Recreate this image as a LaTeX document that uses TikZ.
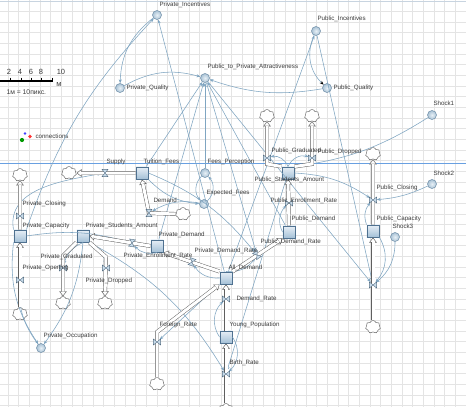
\documentclass[tikz,border=0pt]{standalone}
\usepackage{fontspec}
\setmainfont{Liberation Sans}
\usetikzlibrary{arrows.meta,shapes.symbols,calc}
\definecolor{gridc}{HTML}{E4E4E4}
\definecolor{linkc}{HTML}{7FA5C1}
\definecolor{pipec}{HTML}{5F5F5F}
\definecolor{stockd}{HTML}{4F7190}
\definecolor{stockl}{HTML}{E8F0F7}
\definecolor{stockm}{HTML}{A3BFD6}
\definecolor{vard}{HTML}{6C8CA6}
\definecolor{varl}{HTML}{E8F0F6}
\definecolor{varm}{HTML}{A9C2D5}
\definecolor{valvef}{HTML}{C9DCEB}
\definecolor{txtc}{HTML}{3C3C3C}
\tikzset{
  stock/.style={rectangle, minimum size=12.5pt, inner sep=0pt, draw=stockd, line width=0.5pt, top color=stockl, bottom color=stockm},
  sdvar/.style={circle, minimum size=9pt, inner sep=0pt, draw=vard, line width=0.5pt, inner color=varl, outer color=varm},
  vnode/.style={circle, minimum size=7pt, inner sep=0pt},
  sky/.style={cloud, cloud puffs=7, cloud puff arc=140, aspect=1.15, minimum width=15pt, minimum height=13pt, inner sep=0pt, draw=pipec, fill=white, line width=0.45pt},
  lbl/.style={anchor=west, inner sep=0.3pt, text=txtc},
  link/.style={draw=linkc, line width=0.55pt, -{Stealth[length=4pt,width=3pt]}},
  pipetip/.style={draw=pipec, line width=0.45pt, -{Triangle[width=7.5pt,length=5pt,fill=white]}},
  pipeout/.style={draw=pipec, line width=3.9pt, shorten >=4.6pt},
  pipein/.style={draw=white, line width=3pt, shorten >=4.6pt},
  valvepic/.pic={\draw[draw=vard!80!black, fill=valvef, line width=0.4pt] (-3.6,-3) -- (0,0) -- (-3.6,3) -- cycle (3.6,-3) -- (0,0) -- (3.6,3) -- cycle;}
}
\newcommand\flowpipe[1]{\draw[pipetip] #1; \draw[pipeout] #1; \draw[pipein] #1;}
\begin{document}
\begin{tikzpicture}[x=1pt,y=-1pt,font=\fontsize{6.2}{7}\selectfont]
\useasboundingbox (0,0) rectangle (466,407);
\fill[white] (0,0) rectangle (466,407);
% grid
\foreach \gx in {7.85,18.5,...,466} \draw[gridc,line width=0.5pt] (\gx,0) -- (\gx,407);
\foreach \gy in {0.75,11.4,...,407} \draw[gridc,line width=0.5pt] (0,\gy) -- (466,\gy);
\draw[color={rgb,255:red,200;green,212;blue,224}, line width=1pt] (0,1.5) -- (466,1.5);
\fill[fill={rgb,255:red,105;green,160;blue,225}] (0,162.7) rectangle (466,164.3);

% scale bar
\begin{scope}[font=\fontsize{7.5}{8}\selectfont]
\node[text=txtc, inner sep=0] (n2) at (9,72) {2};
\node[text=txtc, inner sep=0] (n4) at (20,72) {4};
\node[text=txtc, inner sep=0] (n6) at (31,72) {6};
\node[text=txtc, inner sep=0] (n8) at (41,72) {8};
\node[text=txtc, inner sep=0] (n10) at (61,72) {10};
\node[text=txtc, inner sep=0] (nm) at (59,85) {м};
\end{scope}
\draw[black, line width=1.4pt] (0,81) -- (52,81);
\foreach \tx in {10.4,20.8,31.2,41.6,52} \draw[black, line width=0.6pt] (\tx,77.5) -- (\tx,82);
\node[lbl, font=\fontsize{6.8}{8}\selectfont] (scl) at (6,92) {1м = 10пикс.};

% connections icon
\fill[blue!75] (25,133.5) circle (1.3);
\fill[red!80] (30,136.5) circle (1.9);
\fill[green!60!black] (22,140) circle (2.1);
\node[lbl] (lconn) at (35,136) {connections};

% stocks
\node[stock] (TF) at (142,173) {};
\node[stock] (PCap) at (20,236) {};
\node[stock] (PSA) at (83,236) {};
\node[stock] (PD) at (157,246) {};
\node[stock] (AD) at (226,278) {};
\node[stock] (YP) at (226,337) {};
\node[stock] (PubSA) at (288,173) {};
\node[stock] (PubD) at (289,232) {};
\node[stock] (PubCap) at (373,231) {};

% variables
\node[sdvar] (PrivInc) at (157,15) {};
\node[sdvar] (PtPA) at (205,78) {};
\node[sdvar] (PrivQual) at (120,88) {};
\node[sdvar] (PubInc) at (316,31) {};
\node[sdvar] (PubQual) at (327,88) {};
\node[sdvar] (Sh1) at (432,115) {};
\node[sdvar] (Sh2) at (432,184) {};
\node[sdvar] (Sh3) at (395,237) {};
\node[sdvar] (FP) at (205,173) {};
\node[sdvar] (EF) at (204,204) {};
\node[sdvar] (POcc) at (41,348) {};

% clouds
\node[sky] (csup) at (69,173) {};
\node[sky] (cpcl) at (20,175) {};
\node[sky] (cpop) at (20,314) {};
\node[sky] (cpg) at (63,303) {};
\node[sky] (cpd) at (105,303) {};
\node[sky] (cdem) at (183,214) {};
\node[sky] (cfor) at (157,384) {};
\node[sky] (cbirth) at (226,410) {};
\node[sky] (cpubg) at (267,116) {};
\node[sky] (cpubd) at (312,116) {};
\node[sky] (cpubc) at (373,154) {};
\node[sky] (cpubo) at (373,327) {};

% valve anchors
\node[vnode] (vsup) at (105,173) {};
\node[vnode] (vpcl) at (20,216) {};
\node[vnode] (vpop) at (20,280) {};
\node[vnode] (vpg) at (63,268) {};
\node[vnode] (vpd) at (106,268) {};
\node[vnode] (vpenr) at (132,243) {};
\node[vnode] (vpdr) at (192,262) {};
\node[vnode] (vpubdr) at (257,255) {};
\node[vnode] (vpubenr) at (289,203) {};
\node[vnode] (vpubg) at (267,158) {};
\node[vnode] (vpubdp) at (312,158) {};
\node[vnode] (vpubc) at (373,200) {};
\node[vnode] (vpubo) at (373,285) {};
\node[vnode] (vdr) at (226,299) {};
\node[vnode] (vbirth) at (226,374) {};
\node[vnode] (vfor) at (157,342) {};
\node[vnode] (vdem) at (149,213) {};

% links
\draw[link] (PrivInc) to[bend right=25] (PrivQual);
\draw[link] (PrivQual) to[bend left=22] (PtPA);
\draw[link] (PubQual) to[bend left=14] (PtPA);
\draw[link, -{Stealth[length=4pt,width=3pt,color=black]}] (PubInc) to[bend right=35] (PubQual);
\draw[link] (PCap.north east) to[bend left=12] (PrivInc);
\draw[link] (AD) -- (PrivInc);
\draw[link] (AD) -- (PubInc);
\draw[link] (PubInc) -- (vpubo);
\draw[link] (TF) -- (PtPA);
\draw[link] (PD) -- (PtPA);
\draw[link] (FP) -- (PtPA);
\draw[link] (PtPA) -- (vpubdr);
\draw[link] (PubD) -- (PtPA);
\draw[link] (PtPA) -- (vpubo);
\draw[link] (Sh1) to[bend left=12] (PubSA.north east);
\draw[link] (Sh2) to[bend left=10] (vpubc);
\draw[link] (Sh3) to[bend left=25] (vpubo);
\draw[link] (PubCap.north west) to[bend left=30] (vpubc);
\draw[link] (PubCap.south east) to[bend left=35] (vpubo);
\draw[link] (PubSA.east) to[bend left=15] (vpubc);
\draw[link] (PubSA.north) to[bend right=40] (vpubg);
\draw[link] (PubSA.north) to[bend left=40] (vpubdp);
\draw[link] (PubD.west) to[bend left=35] (vpubenr);
\draw[link] (FP) to[bend right=45] (EF);
\draw[link] (EF) to[bend right=45] (FP);
\draw[link] (TF.south east) to[bend right=20] (EF);
\draw[link] (TF.east) to[bend left=14] (vpubdr);
\draw[link] (EF) to[bend right=20] (vdem);
\draw[link] (PCap.north west) to[out=100,in=190] (vsup);
\draw[link] (PCap.east) to[bend left=12] (vpenr);
\draw[link] (PSA.south) to[bend right=25] (vpg);
\draw[link] (PSA.south east) to[bend left=25] (vpd);
\draw[link] (PD.south) to[bend left=30] (vpenr);
\draw[link] (PCap.south west) to[bend right=20] (POcc);
\draw[link] (PSA.south) to[bend left=15] (POcc);
\draw[link] (POcc) to[bend left=20] (vpop);
\draw[link] (AD.west) to[bend left=30] (vpdr);
\draw[link] (AD.north) to[bend right=30] (vpubdr);
\draw[link] (AD) -- (vfor);
\draw[link] (YP.west) to[bend left=40] (vdr);
\draw[link] (YP.east) to[bend left=40] (vbirth);
\draw[link] (PSA.south east) to[bend left=15] (vbirth);
\draw[link] (PubSA) -- (vbirth);

% pipes
\flowpipe{(TF.west) -- (csup.east)}
\flowpipe{(PCap.north) -- (cpcl.south)}
\flowpipe{(cpop.north) -- (PCap.south)}
\flowpipe{(PSA.south west) -- (63,256) -- (cpg.north)}
\flowpipe{(PSA.south east) -- (106,257) -- (cpd.north)}
\flowpipe{(PD.west) -- (PSA.east)}
\flowpipe{(AD.north west) -- (PD.south east)}
\flowpipe{(AD.north east) -- (PubD.south west)}
\flowpipe{(PubD.north) -- (PubSA.south)}
\flowpipe{(PubSA.north west) -- (267,164) -- (cpubg.south)}
\flowpipe{(PubSA.north east) -- (312,164) -- (cpubd.south)}
\flowpipe{(PubCap.north) -- (cpubc.south)}
\flowpipe{(cpubo.north) -- (PubCap.south)}
\flowpipe{(YP.north) -- (AD.south)}
\flowpipe{(cbirth.north) -- (YP.south)}
\flowpipe{(cfor.north) -- (157,332) -- (AD.south west)}
\flowpipe{(cdem.west) -- (149,213) -- (TF.south)}

% valves
\pic[rotate=90] at (vsup) {valvepic};
\pic at (vpcl) {valvepic};
\pic at (vpop) {valvepic};
\pic at (vpg) {valvepic};
\pic at (vpd) {valvepic};
\pic[rotate=81] at (vpenr) {valvepic};
\pic[rotate=71] at (vpdr) {valvepic};
\pic[rotate=124] at (vpubdr) {valvepic};
\pic at (vpubenr) {valvepic};
\pic at (vpubg) {valvepic};
\pic at (vpubdp) {valvepic};
\pic at (vpubc) {valvepic};
\pic at (vpubo) {valvepic};
\pic at (vdr) {valvepic};
\pic at (vbirth) {valvepic};
\pic at (vfor) {valvepic};
\pic[rotate=90] at (vdem) {valvepic};

% labels
\node[lbl] (l1) at (159,5) {Private\_Incentives};
\node[lbl] (l2) at (207,67) {Public\_to\_Private\_Attractiveness};
\node[lbl] (l3) at (126,88) {Private\_Quality};
\node[lbl] (l4) at (317,19) {Public\_Incentives};
\node[lbl] (l5) at (333,88) {Public\_Quality};
\node[lbl] (l6) at (433,103) {Shock1};
\node[lbl] (l7) at (433,173) {Shock2};
\node[lbl] (l8) at (392,226) {Shock3};
\node[lbl] (l9) at (376,219) {Public\_Capacity};
\node[lbl] (l10) at (376,188) {Public\_Closing};
\node[lbl] (l11) at (317,152) {Public\_Dropped};
\node[lbl] (l12) at (271,151) {Public\_Graduated};
\node[lbl] (l13) at (254,180) {Public\_Students\_Amount};
\node[lbl] (l14) at (270,201) {Public\_Enrollment\_Rate};
\node[lbl] (l15) at (291,219) {Public\_Demand};
\node[lbl] (l16) at (260,242) {Public\_Demand\_Rate};
\node[lbl] (l17) at (194,251) {Private\_Demand\_Rate};
\node[lbl] (l18) at (228,268) {All\_Demand};
\node[lbl] (l19) at (236,299) {Demand\_Rate};
\node[lbl] (l20) at (229,325) {Young\_Population};
\node[lbl] (l21) at (229,363) {Birth\_Rate};
\node[lbl] (l22) at (159,325) {Foreign\_Rate};
\node[lbl] (l23) at (43,336) {Private\_Occupation};
\node[lbl] (l24) at (85,281) {Private\_Dropped};
\node[lbl] (l25) at (22,268) {Private\_Opening};
\node[lbl] (l26) at (40,257) {Private\_Graduated};
\node[lbl] (l27) at (22,226) {Private\_Capacity};
\node[lbl] (l28) at (22,204) {Private\_Closing};
\node[lbl] (l29) at (85,226) {Private\_Students\_Amount};
\node[lbl] (l30) at (106,162) {Supply};
\node[lbl] (l31) at (143,162) {Tuition\_Fees};
\node[lbl] (l32) at (207,162) {Fees\_Perception};
\node[lbl] (l33) at (206,193) {Expected\_Fees};
\node[lbl] (l34) at (153,200) {Demand};
\node[lbl] (l35) at (158,235) {Private\_Demand};
\node[lbl] (l36) at (123,256) {Private\_Enrollment\_Rate};
\end{tikzpicture}
\end{document}
